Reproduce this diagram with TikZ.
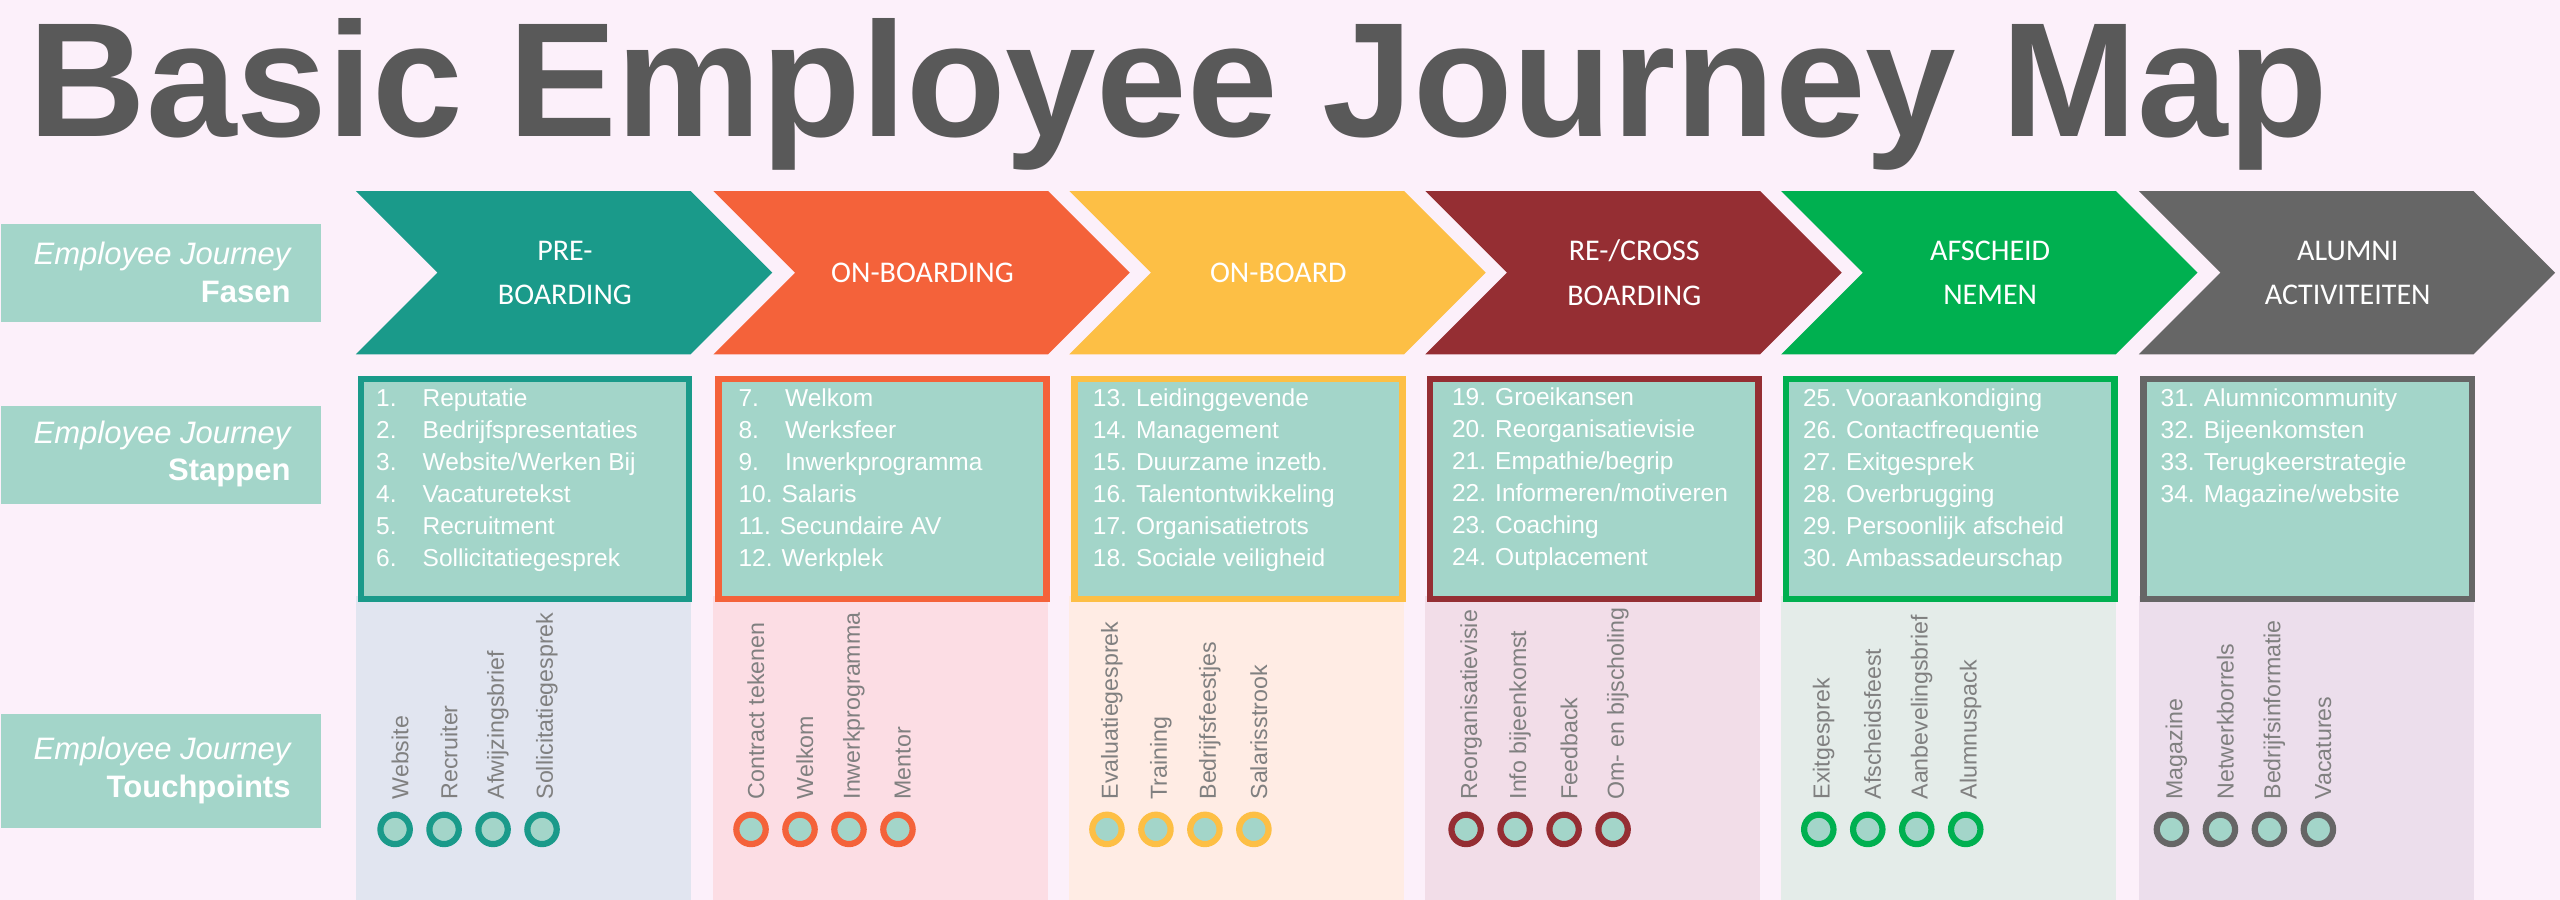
\documentclass[tikz,border=0pt]{standalone}
\usepackage{fontspec}
\setmainfont{Liberation Sans}
\newfontfamily\calib{Carlito}
\definecolor{bg}{HTML}{FCF0FA}
\definecolor{lab}{HTML}{A3D5C9}
\definecolor{ttl}{HTML}{595959}
\definecolor{cA}{HTML}{1A9A8A}
\definecolor{cB}{HTML}{F4623A}
\definecolor{cC}{HTML}{FDBF45}
\definecolor{cD}{HTML}{952E33}
\definecolor{cE}{HTML}{00B050}
\definecolor{cF}{HTML}{666666}
\definecolor{pA}{HTML}{E1E5F0}
\definecolor{pB}{HTML}{FCDDE4}
\definecolor{pC}{HTML}{FFECE4}
\definecolor{pD}{HTML}{F2DDE8}
\definecolor{pE}{HTML}{E4ECE9}
\definecolor{pF}{HTML}{ECDEEC}
\definecolor{tp}{HTML}{808080}
\tikzset{
  sidelab/.style={fill=lab,minimum width=98pt,minimum height=30pt,anchor=north west,inner sep=0pt},
  sidetxt/.style={text=white,align=right,anchor=east,font=\fontsize{9.5}{11.5}\selectfont},
  phasetxt/.style={text=white,align=center,font=\calib\fontsize{9.2}{13.5}\selectfont},
  listbox/.style={fill=lab,line width=2pt,anchor=north west,minimum width=100.5pt,minimum height=67.5pt,inner sep=0pt},
  listtxt/.style={text=white,anchor=north west,align=left,font=\fontsize{7.5}{9.8}\selectfont,inner sep=0pt},
  tptxt/.style={text=tp,rotate=90,anchor=west,inner sep=0pt,font=\fontsize{7.1}{7.5}\selectfont},
  tpdot/.style={circle,line width=1.9pt,fill=lab,minimum size=9pt,inner sep=0pt}
}
\begin{document}
\begin{tikzpicture}[x=0.5pt,y=-0.5pt]
\fill[bg] (0,0) rectangle (1568,551);
\useasboundingbox (0,0) rectangle (1568,551);
\node[anchor=west,text=ttl,inner sep=0pt] (title) at (17,58) {\resizebox{704pt}{!}{\bfseries Basic Employee Journey Map}};
% side labels
\node[sidelab] (lf) at (0,137) {};
\node[sidetxt] at (185,167) {\itshape Employee Journey\\\bfseries Fasen};
\node[sidelab] (ls) at (0,248) {};
\node[sidetxt] at (185,278) {\itshape Employee Journey\\\bfseries Stappen};
\node[sidelab,minimum height=35pt] (lt) at (0,437) {};
\node[sidetxt] at (185,472) {\itshape Employee Journey\\\bfseries Touchpoints};
% phases
\foreach \i/\x/\c/\p/\t in {1/218/cA/pA/{PRE-\\BOARDING},2/437/cB/pB/{ON-BOARDING},3/655/cC/pC/{ON-BOARD},4/873/cD/pD/{RE-/CROSS\\BOARDING},5/1091/cE/pE/{AFSCHEID\\NEMEN},6/1310/cF/pF/{ALUMNI\\ACTIVITEITEN}}{
  \fill[\c] (\x,117) -- (\x+205,117) -- (\x+255,167) -- (\x+205,217) -- (\x,217) -- (\x+50,167) -- cycle;
  \node[phasetxt] (ph\i) at (\x+128,167) {\t};
  \fill[\p] (\x,365) rectangle (\x+205,551);
  \node[listbox,draw=\c] (box\i) at (\x+1,230) {};
}
\node[listtxt] (l1) at (230,238) {1.\hspace{8pt}Reputatie\\2.\hspace{8pt}Bedrijfspresentaties\\3.\hspace{8pt}Website/Werken Bij\\4.\hspace{8pt}Vacaturetekst\\5.\hspace{8pt}Recruitment\\6.\hspace{8pt}Sollicitatiegesprek};
\node[listtxt] (l2) at (452,238) {7.\hspace{8pt}Welkom\\8.\hspace{8pt}Werksfeer\\9.\hspace{8pt}Inwerkprogramma\\10. Salaris\\11. Secundaire AV\\12. Werkplek};
\node[listtxt] (l3) at (669,238) {13. Leidinggevende\\14. Management\\15. Duurzame inzetb.\\16. Talentontwikkeling\\17. Organisatietrots\\18. Sociale veiligheid};
\node[listtxt] (l4) at (889,237) {19. Groeikansen\\20. Reorganisatievisie\\21. Empathie/begrip\\22. Informeren/motiveren\\23. Coaching\\24. Outplacement};
\node[listtxt] (l5) at (1104,238) {25. Vooraankondiging\\26. Contactfrequentie\\27. Exitgesprek\\28. Overbrugging\\29. Persoonlijk afscheid\\30. Ambassadeurschap};
\node[listtxt] (l6) at (1323,238) {31. Alumnicommunity\\32. Bijeenkomsten\\33. Terugkeerstrategie\\34. Magazine/website};
% touchpoints
\foreach \i/\x/\c/\a/\b/\cc/\d in {
 1/242/cA/Website/Recruiter/Afwijzingsbrief/Sollicitatiegesprek,
 2/460/cB/Contract tekenen/Welkom/Inwerkprogramma/Mentor,
 3/678/cC/Evaluatiegesprek/Training/Bedrijfsfeestjes/Salarisstrook,
 4/898/cD/Reorganisatievisie/Info bijeenkomst/Feedback/Om- en bijscholing,
 5/1114/cE/Exitgesprek/Afscheidsfeest/Aanbevelingsbrief/Alumnuspack,
 6/1330/cF/Magazine/Netwerkborrels/Bedrijfsinformatie/Vacatures}{
  \node[tptxt] (ta\i) at (\x+3,490) {\a};
  \node[tptxt] (tb\i) at (\x+33,490) {\b};
  \node[tptxt] (tc\i) at (\x+63,490) {\cc};
  \node[tptxt] (td\i) at (\x+93,490) {\d};
  \foreach \k in {0,1,2,3}{\node[tpdot,draw=\c] (dot\i\k) at (\x+30*\k,508) {};}
}
\end{tikzpicture}
\end{document}
